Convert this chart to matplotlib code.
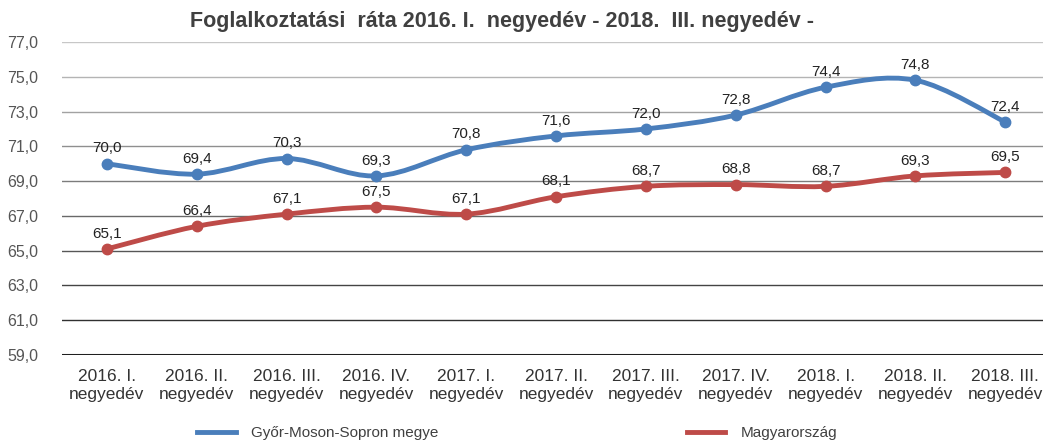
import matplotlib

matplotlib.use("Agg")
import matplotlib.pyplot as plt
from matplotlib.path import Path
from matplotlib.patches import PathPatch
from matplotlib.lines import Line2D

plt.rcParams["font.family"] = ["Liberation Sans", "DejaVu Sans"]

quarters = [
    "2016. I.\nnegyedév", "2016. II.\nnegyedév", "2016. III.\nnegyedév",
    "2016. IV.\nnegyedév", "2017. I.\nnegyedév", "2017. II.\nnegyedév",
    "2017. III.\nnegyedév", "2017. IV.\nnegyedév", "2018. I.\nnegyedév",
    "2018. II.\nnegyedév", "2018. III.\nnegyedév",
]
gyms = [70.0, 69.4, 70.3, 69.3, 70.8, 71.6, 72.0, 72.8, 74.4, 74.8, 72.4]
hungary = [65.1, 66.4, 67.1, 67.5, 67.1, 68.1, 68.7, 68.8, 68.7, 69.3, 69.5]
y_ticks = [59, 61, 63, 65, 67, 69, 71, 73, 75, 77]

BLUE = "#4a7ebb"
RED = "#be4b48"


def smooth_path(xs, ys):
    # Excel-like smoothed line: cubic Bezier with Catmull-Rom control points
    pts = list(zip(xs, ys))
    n = len(pts)
    verts = [pts[0]]
    codes = [Path.MOVETO]
    for i in range(n - 1):
        p0 = pts[max(i - 1, 0)]
        p1 = pts[i]
        p2 = pts[i + 1]
        p3 = pts[min(i + 2, n - 1)]
        c1 = (p1[0] + (p2[0] - p0[0]) / 6, p1[1] + (p2[1] - p0[1]) / 6)
        c2 = (p2[0] - (p3[0] - p1[0]) / 6, p2[1] - (p3[1] - p1[1]) / 6)
        verts += [c1, c2, p2]
        codes += [Path.CURVE4] * 3
    return Path(verts, codes)


fig = plt.figure(figsize=(10.43, 4.43), dpi=100)
ax = fig.add_axes([62 / 1043, 1 - 355 / 443, 981 / 1043, 313 / 443])
ax.set_xlim(-0.5, 10.42)
ax.set_ylim(59, 77)

# gridlines fade from light grey at the top to near-black at the bottom
for k, t in enumerate(y_ticks):
    shade = 0.78 - (0.78 - 0.12) * (1 - k / (len(y_ticks) - 1))
    lw = 2.2 if t == 59 else 1.0
    ax.axhline(t, color=str(shade), lw=lw, zorder=1)

x = list(range(len(quarters)))
for series, color in [(gyms, BLUE), (hungary, RED)]:
    ax.add_patch(PathPatch(smooth_path(x, series), facecolor="none",
                           edgecolor=color, lw=3.5, capstyle="round", zorder=3))
    ax.plot(x, series, "o", color=color, ms=7.5, zorder=4)
    for xi, v in zip(x, series):
        ax.annotate(f"{v:.1f}".replace(".", ","), (xi, v), xytext=(0, 6),
                    textcoords="offset points", ha="center", va="bottom",
                    fontsize=11, color="#222222", zorder=5)

ax.set_xticks(x)
ax.set_xticklabels(quarters, fontsize=12.5, color="#333333", linespacing=1.25)
ax.set_yticks(y_ticks)
ax.set_yticklabels([f"{t},0" for t in y_ticks], fontsize=11.5, color="#555555")
ax.tick_params(length=0)
ax.tick_params(axis="x", pad=10)
ax.tick_params(axis="y", pad=17)
for s in ax.spines.values():
    s.set_visible(False)

fig.text(0.481, 1 - 22 / 443, "Foglalkoztatási  ráta 2016. I.  negyedév - 2018.  III. negyedév -",
         ha="center", va="center", fontsize=15.5, fontweight="bold", color="#404040")

handles = [Line2D([], [], color=BLUE, lw=3.5), Line2D([], [], color=RED, lw=3.5)]
fig.legend(handles, ["Győr-Moson-Sopron megye", "Magyarország"], loc="center",
           bbox_to_anchor=(0.496, 1 - 433 / 443), ncol=2, frameon=False,
           fontsize=11, labelcolor="#404040", columnspacing=16.3, handlelength=2.5,
           handletextpad=1.0)

fig.savefig("out.png", dpi=100)
